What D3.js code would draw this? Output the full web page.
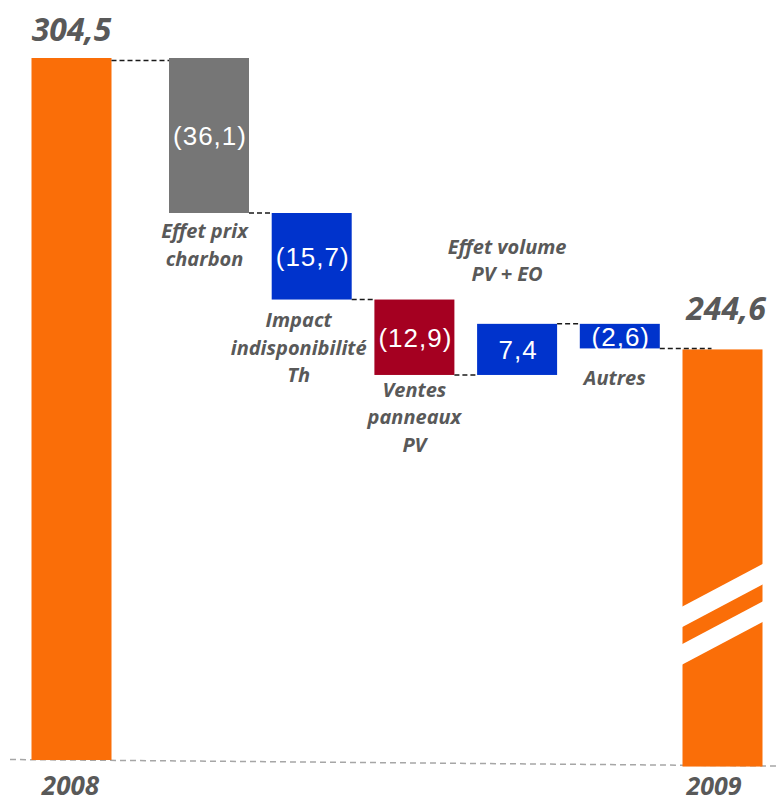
<!DOCTYPE html>
<html>
<head>
<meta charset="utf-8">
<title>Waterfall 2008 - 2009</title>
<script src="https://d3js.org/d3.v7.min.js"></script>
<style>
body { margin: 0; background: white; }
.total { font-family: "Open Sans", sans-serif; font-weight: bold; font-style: italic; fill: #595959; }
.cat { font-family: "Open Sans", sans-serif; font-weight: bold; font-style: italic; font-size: 20px; fill: #595959; }
.val { font-family: "Liberation Sans", Arial, sans-serif; font-size: 26px; fill: white; letter-spacing: 1px; }
</style>
</head>
<body>
<svg id="chart" width="779" height="803"></svg>
<script>
// data
var startValue = 304.5;
var deltas = [-36.1, -15.7, -12.9, 7.4, -2.6];
var stepLabels = [["Effet prix", "charbon"], ["Impact", "indisponibilité", "Th"], ["Ventes", "panneaux", "PV"], ["Effet volume", "PV + EO"], ["Autres"]];
var years = ["2008", "2009"];

// styles / layout
var stepColors = ["#767676", "#0033CC", "#A50021", "#0033CC", "#0033CC"];
var orange = "#FA6E08";
var labelDx = [-4.5, -13, 0, -10, -5];
var labelDy = [25, 27.5, 22, -70, 36.5];   // from bar bottom (or top when negative)
var barW = 80;
var topY = 58;

var svg = d3.select("#chart");
var fr = d3.formatLocale({decimal: ",", thousands: " ", grouping: [3], currency: ["", ""]}).format(".1f");

var endValue = startValue + d3.sum(deltas);

// x: 2008, steps 1..5, 2009 at 6
var x = d3.scaleLinear().domain([0, 1, 6]).range([71.5, 209, 722.5]);
// bar heights (the original is not drawn to scale)
var h = d3.scalePow().exponent(0.7).domain([0, d3.max(deltas, function(d) { return Math.abs(d); })]).range([0, 155]);

var base = function(px) { return 759.5 + (px - 10) * 0.0085; };

// cumulative pixel levels
var levels = [topY];
deltas.forEach(function(d, i) {
  levels.push(levels[i] + (d < 0 ? h(-d) : -h(d)));
});
var steps = deltas.map(function(d, i) {
  return {value: d, y0: levels[i], y1: levels[i + 1], i: i + 1};
});

// baseline
svg.append("line")
  .attr("x1", 10).attr("y1", base(10))
  .attr("x2", 779).attr("y2", base(779))
  .attr("stroke", "#A6A6A6").attr("stroke-width", 1.5)
  .attr("stroke-dasharray", "6,4");

// totals
var totals = [
  {label: years[0], value: startValue, y: topY, i: 0, dy: -17, yearDx: -1, yearY: 795, size: 26},
  {label: years[1], value: endValue, y: levels[levels.length - 1], i: 6, dy: -28.5, yearDx: -8.5, yearY: 795, size: 25}
];
totals.forEach(function(t) {
  var cx = x(t.i);
  svg.append("rect")
    .attr("x", cx - barW / 2).attr("y", t.y + (t.i == 6 ? 1 : 0))
    .attr("width", barW).attr("height", base(cx) - t.y)
    .attr("fill", orange);
  svg.append("text").attr("class", "total")
    .attr("x", t.i == 0 ? cx : cx + 3.5).attr("y", t.y + t.dy)
    .attr("text-anchor", "middle").style("font-size", "32px")
    .text(fr(t.value));
  svg.append("text").attr("class", "total")
    .attr("x", cx + t.yearDx).attr("y", t.yearY)
    .attr("text-anchor", "middle").style("font-size", t.size + "px")
    .text(t.label);
});

// break marks on 2009 bar
var L = x(6) - barW / 2, R = x(6) + barW / 2, B = base(x(6));
var k = 43 / 81;
[B - 159, B - 121.5].forEach(function(yl) {
  var yAt = function(px) { return yl - (px - L) * k; };
  var pts = [[L - 2, yAt(L - 2)], [R + 2, yAt(R + 2)], [R + 2, yAt(R + 2) + 20.5], [L - 2, yAt(L - 2) + 20.5]];
  svg.append("polygon").attr("points", pts.map(function(p) { return p.join(","); }).join(" "))
    .attr("fill", "white");
});

// step bars
svg.selectAll(".step").data(steps).enter()
  .append("rect").attr("class", "step")
  .attr("x", function(d) { return x(d.i) - barW / 2; })
  .attr("y", function(d) { return Math.min(d.y0, d.y1); })
  .attr("width", barW)
  .attr("height", function(d) { return Math.abs(d.y1 - d.y0); })
  .attr("fill", function(d, i) { return stepColors[i]; });

// connectors
var conn = [];
for (var i = 0; i < levels.length; i++) {
  var x1 = x(i) + barW / 2;
  var x2 = x(i + 1) - barW / 2 + (i == levels.length - 1 ? 29 : 0);
  conn.push({x1: x1, x2: x2, y: levels[i] + (i == 0 ? 2.5 : 0)});
}
svg.selectAll(".conn").data(conn).enter()
  .append("line").attr("class", "conn")
  .attr("x1", function(d) { return d.x1; })
  .attr("x2", function(d) { return d.x2; })
  .attr("y1", function(d) { return d.y; })
  .attr("y2", function(d) { return d.y; })
  .attr("stroke", "#1a1a1a").attr("stroke-width", 1.5)
  .attr("stroke-dasharray", "5,3");

// values inside bars
svg.selectAll(".val").data(steps).enter()
  .append("text").attr("class", "val")
  .attr("x", function(d) { return x(d.i) + 1; })
  .attr("y", function(d) { return (d.y0 + d.y1) / 2 + 9.5; })
  .attr("text-anchor", "middle")
  .text(function(d) { return d.value < 0 ? "(" + fr(-d.value) + ")" : fr(d.value); });

// category labels
steps.forEach(function(d, i) {
  var lines = stepLabels[i];
  var bottom = Math.max(d.y0, d.y1), top = Math.min(d.y0, d.y1);
  var y0 = labelDy[i] < 0 ? top + labelDy[i] : bottom + labelDy[i];
  var t = svg.append("text").attr("class", "cat")
    .attr("text-anchor", "middle");
  lines.forEach(function(s, j) {
    t.append("tspan")
      .attr("x", x(d.i) + labelDx[i])
      .attr("y", y0 + j * 27.5)
      .text(s);
  });
});
</script>
</body>
</html>
